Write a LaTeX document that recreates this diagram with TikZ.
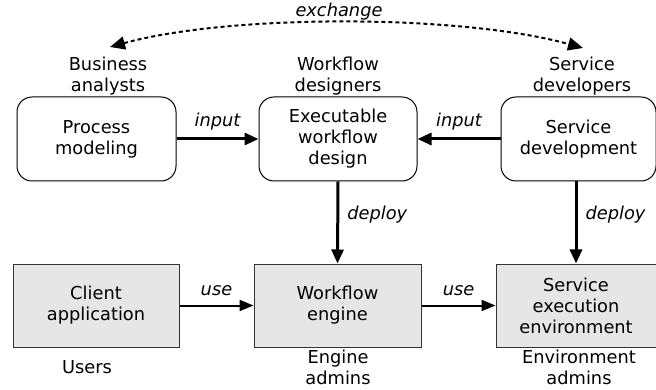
\documentclass[tikz,border=0pt]{standalone}
\usepackage{fontspec}
\setmainfont{DejaVu Sans}
\usetikzlibrary{arrows.meta}
\definecolor{boxgray}{HTML}{E6E6E6}
\definecolor{edgegray}{HTML}{333333}
\tikzset{
  lbl/.style={font=\fontsize{17.8}{21}\selectfont, align=center, inner sep=0pt},
  ital/.style={font=\fontsize{17.8}{21}\selectfont\itshape, inner sep=0pt},
  roundbox/.style={draw=black, line width=1pt, rounded corners=15pt, fill=white,
    minimum height=84pt, align=center, font=\fontsize{17.8}{21}\selectfont, inner sep=0pt},
  graybox/.style={draw=edgegray, line width=1pt, fill=boxgray,
    minimum height=83pt, align=center, font=\fontsize{17.8}{21}\selectfont, inner sep=0pt},
  thickarrow/.style={line width=3pt, -{Triangle[length=14pt,width=12pt]}},
  thinarrow/.style={line width=2pt, -{Triangle[length=14pt,width=11pt]}},
  dotarrow/.style={line width=2pt, dash pattern=on 4pt off 3pt,
    {Triangle[length=15pt,width=13pt]}-{Triangle[length=15pt,width=13pt]}},
}
\begin{document}
\begin{tikzpicture}[x=1pt,y=-1pt]
\useasboundingbox (0,0) rectangle (656,390);
% people labels
\node[ital] (exch) at (339,12) {exchange};
\node[lbl] (ba) at (108,76) {Business\\analysts};
\node[lbl] (wd) at (338,76) {Workflow\\designers};
\node[lbl] (sdv) at (582,76) {Service\\developers};
\node[lbl] (us) at (87,367) {Users};
\node[lbl] (ea) at (338,367.5) {Engine\\admins};
\node[lbl] (eva) at (579,367.5) {Environment\\admins};
% top boxes
\node[roundbox, minimum width=159pt] (pm) at (96.5,139) {Process\\modeling};
\node[roundbox, minimum width=158pt] (ewd) at (338,139) {Executable\\workflow\\design};
\node[roundbox, minimum width=155pt] (sd) at (578.5,139) {Service\\development};
% bottom boxes
\node[graybox, minimum width=166pt] (ca) at (96,305.5) {Client\\application};
\node[graybox, minimum width=167pt] (we) at (337.5,305.5) {Workflow\\engine};
\node[graybox, minimum width=160pt] (see) at (576,305.5) {Service\\execution\\environment};
% coordinates for exchange arc
\coordinate (exl) at (110,47);
\coordinate (exr) at (583,48);
\draw[dotarrow] (exl) .. controls (230,14) and (460,14) .. (exr);
% arrows
\draw[thickarrow] (pm.east) -- (ewd.west) node[ital, midway, above=7pt] {input};
\draw[thickarrow] (sd.west) -- (ewd.east) node[ital, midway, above=7pt] {input};
\draw[thickarrow] (ewd.south) -- (we.north) node[ital, pos=0.4, right=8pt] {deploy};
\draw[thickarrow] (sd.south -| see.north) -- (see.north) node[ital, pos=0.4, right=8pt] {deploy};
\draw[thinarrow] (ca.east) -- (we.west) node[ital, midway, above=9pt] {use};
\draw[thinarrow] (we.east) -- (see.west) node[ital, midway, above=9pt] {use};
\end{tikzpicture}
\end{document}
